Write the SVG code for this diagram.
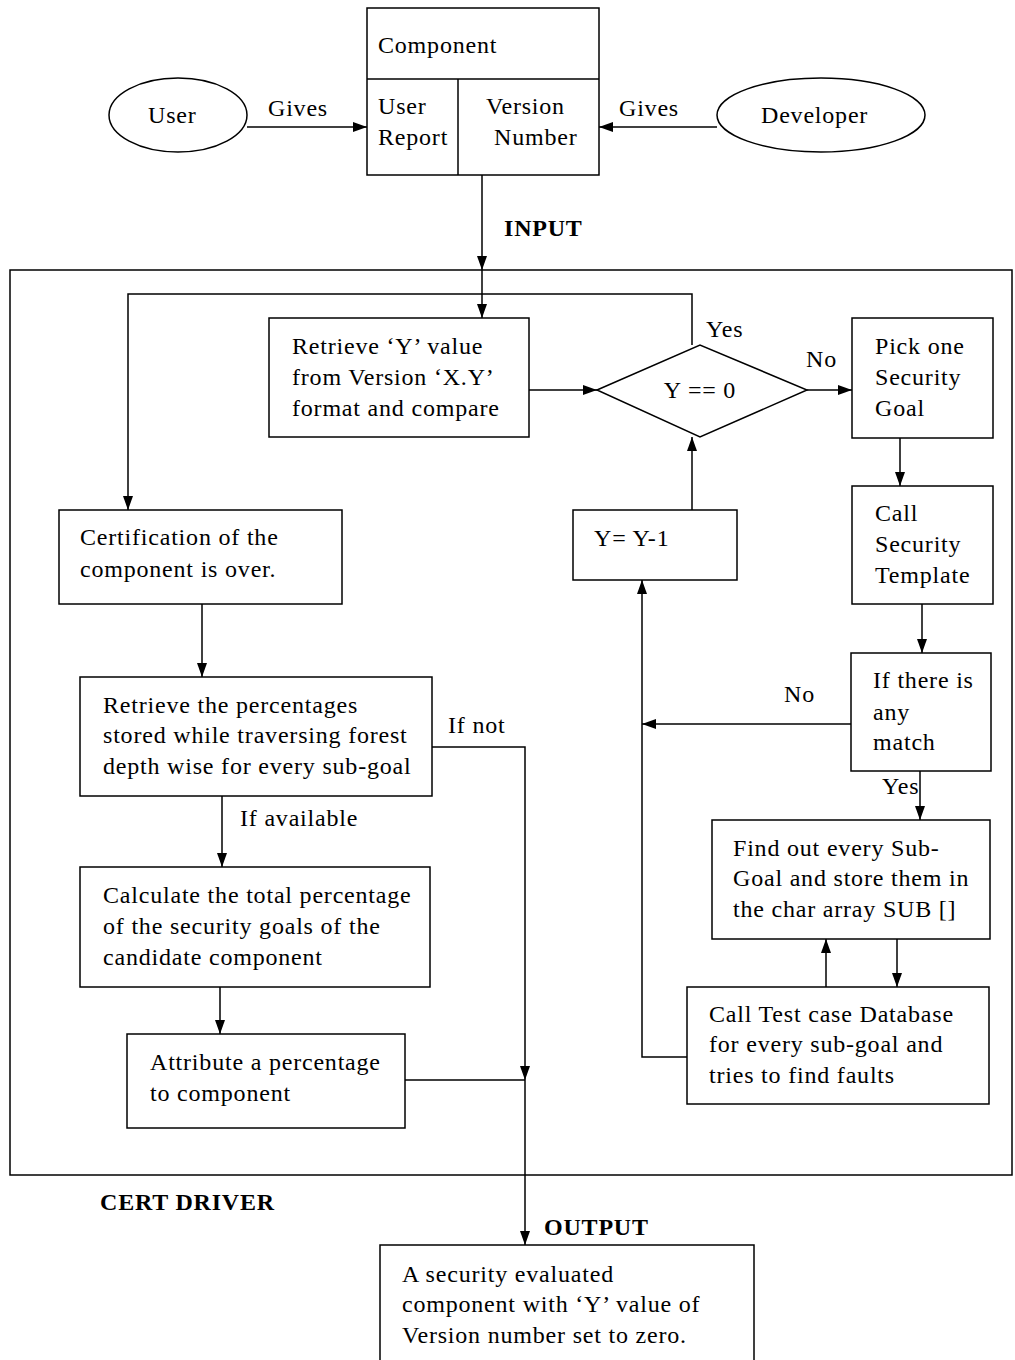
<svg xmlns="http://www.w3.org/2000/svg" width="1015" height="1360" viewBox="0 0 1015 1360">
<style>
.b{fill:#fff;stroke:#000;stroke-width:1.5}
.c{fill:none;stroke:#000;stroke-width:1.5}
text{font-family:"Liberation Serif","Times New Roman",serif;font-size:24px;letter-spacing:0.8px;fill:#000}
.bd{font-weight:bold}
</style>
<defs>
<marker id="a" viewBox="0 0 14 10" refX="14" refY="5" markerWidth="14" markerHeight="10" markerUnits="userSpaceOnUse" orient="auto">
<path d="M0,0L14,5L0,10z" fill="#000"/>
</marker>
</defs>
<rect width="1015" height="1360" fill="#fff"/>
<g id="frame"><rect class="c" x="10" y="270" width="1002" height="905"/><text class="bd" x="100" y="1210">CERT DRIVER</text></g>
<g id="connectors">
<line class="c" x1="247" y1="127" x2="367" y2="127" marker-end="url(#a)"/>
<line class="c" x1="717" y1="127" x2="599" y2="127" marker-end="url(#a)"/>
<line class="c" x1="482" y1="175" x2="482" y2="270" marker-end="url(#a)"/>
<line class="c" x1="482" y1="270" x2="482" y2="318" marker-end="url(#a)"/>
<polyline class="c" points="692,345 692,294 128,294 128,510" marker-end="url(#a)"/>
<line class="c" x1="529" y1="390" x2="597" y2="390" marker-end="url(#a)"/>
<line class="c" x1="807" y1="390" x2="852" y2="390" marker-end="url(#a)"/>
<line class="c" x1="900" y1="438" x2="900" y2="486" marker-end="url(#a)"/>
<line class="c" x1="922" y1="604" x2="922" y2="653" marker-end="url(#a)"/>
<line class="c" x1="851" y1="724" x2="642" y2="724" marker-end="url(#a)"/>
<line class="c" x1="692" y1="510" x2="692" y2="437" marker-end="url(#a)"/>
<polyline class="c" points="687,1057 642,1057 642,580" marker-end="url(#a)"/>
<line class="c" x1="920" y1="771" x2="920" y2="820" marker-end="url(#a)"/>
<line class="c" x1="826" y1="987" x2="826" y2="939" marker-end="url(#a)"/>
<line class="c" x1="897" y1="939" x2="897" y2="987" marker-end="url(#a)"/>
<line class="c" x1="202" y1="604" x2="202" y2="677" marker-end="url(#a)"/>
<line class="c" x1="222" y1="796" x2="222" y2="867" marker-end="url(#a)"/>
<line class="c" x1="220" y1="987" x2="220" y2="1034" marker-end="url(#a)"/>
<polyline class="c" points="432,747 525,747 525,1080" marker-end="url(#a)"/>
<line class="c" x1="405" y1="1080" x2="525" y2="1080"/>
<line class="c" x1="525" y1="1080" x2="525" y2="1245" marker-end="url(#a)"/>
<text x="268" y="116">Gives</text>
<text x="619" y="116">Gives</text>
<text class="bd" x="504" y="236">INPUT</text>
<text x="706" y="337">Yes</text>
<text x="806" y="367">No</text>
<text x="784" y="702">No</text>
<text x="882" y="794">Yes</text>
<text x="448" y="733">If not</text>
<text x="240" y="826">If available</text>
<text class="bd" x="544" y="1235">OUTPUT</text>
</g>
<g id="user"><ellipse class="b" cx="178" cy="115" rx="69" ry="37"/><text x="148" y="123">User</text></g>
<g id="developer"><ellipse class="b" cx="821" cy="115" rx="104" ry="37"/><text x="761" y="123">Developer</text></g>
<g id="component"><rect class="b" x="367" y="8" width="232" height="167"/><line class="c" x1="367" y1="79" x2="599" y2="79"/><line class="c" x1="458" y1="79" x2="458" y2="175"/>
<text x="378" y="53">Component</text><text x="378" y="114">User</text><text x="378" y="145">Report</text><text x="486" y="114">Version</text><text x="494" y="145">Number</text></g>
<g id="retrieve"><rect class="b" x="269" y="318" width="260" height="119"/><text x="292" y="354">Retrieve ‘Y’ value</text><text x="292" y="385">from Version ‘X.Y’</text><text x="292" y="416">format and compare</text></g>
<g id="decision"><polygon class="b" points="597,390 700,345 807,390 700,437"/><text x="700" y="398" text-anchor="middle">Y == 0</text></g>
<g id="pick"><rect class="b" x="852" y="318" width="141" height="120"/><text x="875" y="354">Pick one</text><text x="875" y="385">Security</text><text x="875" y="416">Goal</text></g>
<g id="callsec"><rect class="b" x="852" y="486" width="141" height="118"/><text x="875" y="521">Call</text><text x="875" y="552">Security</text><text x="875" y="583">Template</text></g>
<g id="ifmatch"><rect class="b" x="851" y="653" width="140" height="118"/><text x="873" y="688">If there is</text><text x="873" y="720">any</text><text x="873" y="750">match</text></g>
<g id="decrement"><rect class="b" x="573" y="510" width="164" height="70"/><text x="594" y="546">Y= Y-1</text></g>
<g id="findsub"><rect class="b" x="712" y="820" width="278" height="119"/><text x="733" y="856">Find out every Sub-</text><text x="733" y="886">Goal and store them in</text><text x="733" y="917">the char array SUB []</text></g>
<g id="calltest"><rect class="b" x="687" y="987" width="302" height="117"/><text x="709" y="1022">Call Test case Database</text><text x="709" y="1052">for every sub-goal and</text><text x="709" y="1083">tries to find faults</text></g>
<g id="certover"><rect class="b" x="59" y="510" width="283" height="94"/><text x="80" y="545">Certification of the</text><text x="80" y="577">component is over.</text></g>
<g id="retrievepct"><rect class="b" x="80" y="677" width="352" height="119"/><text x="103" y="713">Retrieve the percentages</text><text x="103" y="743">stored while traversing forest</text><text x="103" y="774">depth wise for every sub-goal</text></g>
<g id="calculate"><rect class="b" x="80" y="867" width="350" height="120"/><text x="103" y="903">Calculate the total percentage</text><text x="103" y="934">of the security goals of the</text><text x="103" y="965">candidate component</text></g>
<g id="attribute"><rect class="b" x="127" y="1034" width="278" height="94"/><text x="150" y="1070">Attribute a percentage</text><text x="150" y="1101">to component</text></g>
<g id="output"><rect class="b" x="380" y="1245" width="374" height="130"/><text x="402" y="1282">A security evaluated</text><text x="402" y="1312">component with ‘Y’ value of</text><text x="402" y="1343">Version number set to zero.</text></g>
</svg>
